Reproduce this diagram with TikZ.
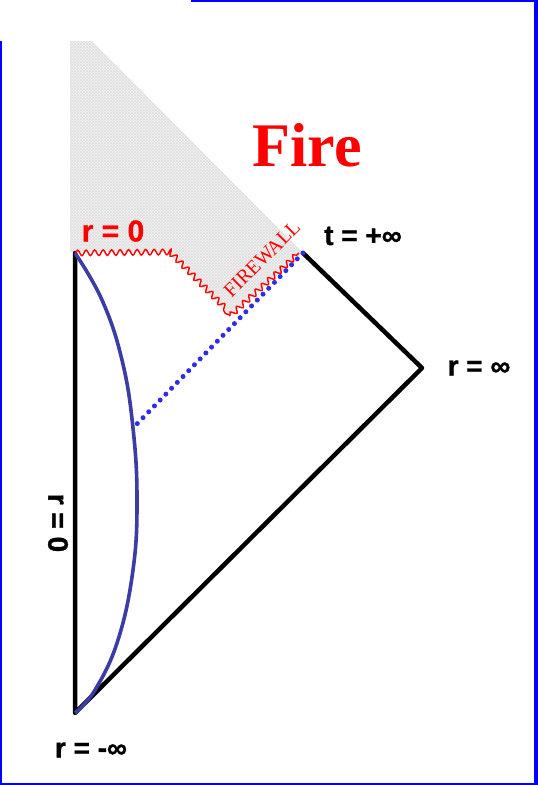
\documentclass[tikz,border=0pt]{standalone}
\usepackage{fontspec}
\setmainfont{Liberation Serif}
\newfontfamily\labfont[FakeBold=1.2]{Liberation Sans Bold}
\usetikzlibrary{decorations.pathmorphing,patterns}
\definecolor{pureblue}{RGB}{0,0,255}
\definecolor{curveblue}{RGB}{60,60,165}
\definecolor{dotblue}{RGB}{45,45,230}
\definecolor{fired}{RGB}{255,0,0}
\begin{document}
\begin{tikzpicture}[x=1pt,y=-1pt,
  lab/.style={inner sep=0pt,font=\labfont\fontsize{28}{30}\selectfont},
  bound/.style={line width=4.5pt,line cap=round,line join=round},
  wavy/.style={fired,line width=1.4pt,decorate,decoration={snake,segment length=8.5pt,amplitude=2.8pt}},
  frame/.style={fill=pureblue}]
\useasboundingbox (0,0) rectangle (538,785);
% frame
\fill[frame] (191,0) rectangle (538,1.5);
\fill[frame] (534,0) rectangle (538,785);
\fill[frame] (0,783) rectangle (538,785);
\fill[frame] (0,41) rectangle (1.6,785);
% coordinates
\coordinate (bot) at (75,713);
\coordinate (top) at (75,253);
\coordinate (rinf) at (422,368);
\coordinate (tinf) at (303,253);
\coordinate (kink) at (167,252);
\coordinate (fwb) at (230,316);
\coordinate (fwt) at (299,253);
\coordinate (meet) at (133,428);
% shaded region
\fill[black!5] (70,41) -- (92,41) -- (tinf) -- (fwb) -- (kink) -- (70,252) -- cycle;
\fill[pattern=crosshatch,pattern color=black!13] (70,41) -- (92,41) -- (tinf) -- (fwb) -- (kink) -- (70,252) -- cycle;
% boundaries
\draw[bound] (top) -- (bot) -- (rinf) -- (tinf);
% curve
\draw[curveblue,line width=3.6pt] plot[smooth,tension=0.7] coordinates {(75,253) (102,300) (122,360) (133,428) (137,500) (133,570) (118,640) (95,690) (75,713)};
% dotted horizon
\draw[dotblue,line width=5pt,line cap=round,dash pattern=on 0pt off 8.2pt] (tinf) -- (meet);
% wavy singularity and firewall
\draw[wavy] (top) -- (kink) -- (fwb);
\draw[wavy] (fwb) -- (fwt);
% texts
\node[text=fired,inner sep=0pt,font=\bfseries\fontsize{62}{64}\selectfont] (fire) at (307,145) {Fire};
\node[text=fired,inner sep=0pt,rotate=45,font=\fontsize{20}{22}\selectfont] (fwlab) at (262,259) {FIREWALL};
\node[lab,text=fired,font=\labfont\fontsize{30}{32}\selectfont] (rzero) at (113,231) {r = 0};
\node[lab] (tlab) at (363,236) {t = +∞};
\node[lab] (rinflab) at (479,368) {r = ∞};
\node[lab] (rminlab) at (91,750) {r = -∞};
\node[lab,rotate=-90] (rzerov) at (58,523) {r = 0};
\end{tikzpicture}
\end{document}
